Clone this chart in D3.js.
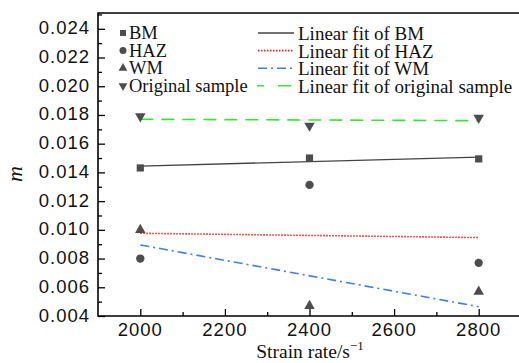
<!DOCTYPE html>
<html>
<head>
<meta charset="utf-8">
<script src="https://cdn.jsdelivr.net/npm/d3@7"></script>
<style>
  body { margin: 0; background: #fff; }
  svg { display: block; }
</style>
</head>
<body>
<div id="chart"></div>
<script>
// strain rates (s^-1)
const rates = [2000, 2400, 2800];
// m values
const bm = [0.01431, 0.0150, 0.01494];
const haz = [0.0080, 0.01313, 0.0077];
const wm = [0.0100, 0.0047, 0.0057];
const orig = [0.0179, 0.01725, 0.0178];

const xTicks = [2000, 2200, 2400, 2600, 2800];
const xMinor = [2100, 2300, 2500, 2700];
const yTicks = [0.004, 0.006, 0.008, 0.010, 0.012, 0.014, 0.016, 0.018, 0.020, 0.022, 0.024];
const yMinor = [0.005, 0.007, 0.009, 0.011, 0.013, 0.015, 0.017, 0.019, 0.021, 0.023, 0.025];

const pointNames = ["BM", "HAZ", "WM", "Original sample"];
const fitNames = ["Linear fit of BM", "Linear fit of HAZ", "Linear fit of WM", "Linear fit of original sample"];

const width = 519;
const height = 363;
const margin = {left: 98, right: -2, top: 13, bottom: 47};

const serif = "Liberation Serif, DejaVu Serif, serif";
const markerColor = "#4d4d4d";

let svg = d3.select("#chart")
    .append("svg")
    .attr("width", width)
    .attr("height", height)
    .attr("font-family", serif);

let xScale = d3.scaleLinear()
    .domain([1900, 2900])
    .range([margin.left, width - margin.right]);

let yScale = d3.scaleLinear()
    .domain([0.004, 0.0251])
    .range([height - margin.bottom, margin.top]);

// least squares fit over the points
function fit(ys) {
    const mx = d3.mean(rates);
    const my = d3.mean(ys);
    let num = 0, den = 0;
    rates.forEach((r, i) => { num += (r - mx) * (ys[i] - my); den += (r - mx) * (r - mx); });
    const k = num / den;
    return [rates[0], rates[rates.length - 1]].map(r => ({x: r, y: my + k * (r - mx)}));
}

const series = [
    {vals: bm, symbol: d3.symbolSquare, color: "#444", dash: null, size: 52},
    {vals: haz, symbol: d3.symbolCircle, color: "#ff1a1a", dash: "1.5,1.5", size: 55},
    {vals: wm, symbol: d3.symbolTriangle, color: "#3a7dff", dash: "9,4,2,4", size: 48},
    {vals: orig, symbol: d3.symbolTriangle, color: "#33e633", dash: "13,8", size: 48, flip: true}
];

let line = d3.line()
    .x(d => xScale(d.x))
    .y(d => yScale(d.y));

// fit lines
series.forEach(s => {
    svg.append("path")
        .attr("fill", "none")
        .attr("stroke", s.color)
        .attr("stroke-width", s.dash ? 1.6 : 1.4)
        .attr("stroke-dasharray", s.dash)
        .attr("d", line(fit(s.vals)));
});

// points
series.forEach(s => {
    svg.selectAll(null)
        .data(s.vals)
        .enter()
        .append("path")
        .attr("fill", markerColor)
        .attr("transform", (d, i) => `translate(${xScale(rates[i])},${yScale(d)})` + (s.flip ? " rotate(180)" : ""))
        .attr("d", d3.symbol().type(s.symbol).size(s.size));
});

// axes with inward ticks
let xAxis = svg.append("g")
    .attr("transform", `translate(0,${height - margin.bottom})`);
xAxis.call(d3.axisTop(xScale).tickValues(xTicks).tickSize(7).tickFormat(""));
xAxis.append("g").call(d3.axisTop(xScale).tickValues(xMinor).tickSize(4).tickFormat(""));
xAxis.selectAll(".domain").remove();
xAxis.selectAll(".tick line").attr("stroke", "#000").attr("stroke-width", 1.3);
xAxis.selectAll(null)
    .data(xTicks)
    .enter()
    .append("text")
    .attr("x", d => xScale(d))
    .attr("y", 20)
    .attr("text-anchor", "middle")
    .attr("font-size", 18.5)
    .attr("letter-spacing", 1)
    .attr("fill", "#111")
    .text(d => d);

let yAxis = svg.append("g")
    .attr("transform", `translate(${margin.left},0)`);
yAxis.call(d3.axisRight(yScale).tickValues(yTicks).tickSize(7).tickFormat(""));
yAxis.append("g").call(d3.axisRight(yScale).tickValues(yMinor).tickSize(4).tickFormat(""));
yAxis.selectAll(".domain").remove();
yAxis.selectAll(".tick line").attr("stroke", "#000").attr("stroke-width", 1.3);
yAxis.selectAll(null)
    .data(yTicks)
    .enter()
    .append("text")
    .attr("x", -8)
    .attr("y", d => yScale(d) + 5.5)
    .attr("text-anchor", "end")
    .attr("font-size", 18.5)
    .attr("letter-spacing", 1)
    .attr("fill", "#111")
    .text(d => d3.format(".3f")(d));

// frame (left, bottom, top)
svg.append("path")
    .attr("fill", "none")
    .attr("stroke", "#000")
    .attr("stroke-width", 1.6)
    .attr("d", `M${width},${margin.top}H${margin.left}V${height - margin.bottom}H${width}`);

// axis titles
let xTitle = svg.append("text")
    .attr("x", 310)
    .attr("y", 358)
    .attr("text-anchor", "middle")
    .attr("font-size", 19.5)
    .attr("fill", "#111");
xTitle.append("tspan").text("Strain rate/s");
xTitle.append("tspan").attr("dy", -8).attr("font-size", 13).text("\u22121");

svg.append("text")
    .attr("transform", "translate(22,174) rotate(-90)")
    .attr("text-anchor", "middle")
    .attr("font-size", 22)
    .attr("font-style", "italic")
    .attr("fill", "#111")
    .text("m");

// legend
const rowY = i => 39 + 17.6 * i;
let legL = svg.append("g");
series.forEach((s, i) => {
    legL.append("path")
        .attr("fill", markerColor)
        .attr("transform", `translate(123,${rowY(i) - 6})` + (s.flip ? " rotate(180)" : ""))
        .attr("d", d3.symbol().type(s.symbol).size(s.size * 0.7));
    legL.append("text")
        .attr("x", 129)
        .attr("y", rowY(i))
        .attr("font-size", 18.5)
        .attr("fill", "#111")
        .text(pointNames[i]);
});

let legR = svg.append("g");
series.forEach((s, i) => {
    legR.append("line")
        .attr("x1", s.flip ? 257 : 258)
        .attr("x2", 294)
        .attr("y1", rowY(i) - 6)
        .attr("y2", rowY(i) - 6)
        .attr("stroke", s.color)
        .attr("stroke-width", s.dash ? 1.6 : 1.4)
        .attr("stroke-dasharray", s.flip ? "7,14,13,8" : s.dash);
    legR.append("text")
        .attr("x", 298)
        .attr("y", rowY(i) + 1)
        .attr("font-size", 19)
        .attr("fill", "#111")
        .text(fitNames[i]);
});
</script>
</body>
</html>
